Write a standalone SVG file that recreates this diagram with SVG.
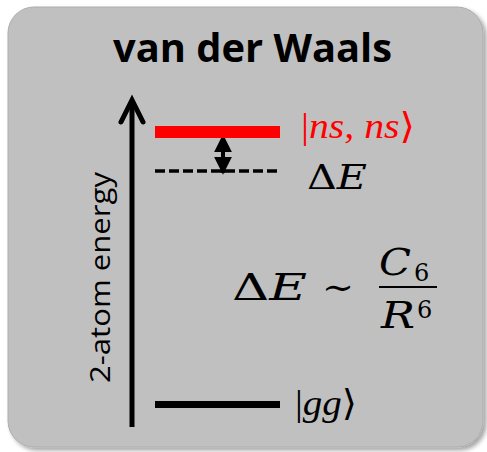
<svg xmlns="http://www.w3.org/2000/svg" width="487" height="452" viewBox="0 0 487 452">
  <style>
    .math { font-family: "Liberation Serif", "DejaVu Serif", serif; font-size: 36px; }
    .dv { font-family: "DejaVu Serif", serif; }
    .it { font-style: italic; }
    .br { font-family: "DejaVu Serif", serif; font-style: normal; }
    .title { font-family: "Open Sans", "Liberation Sans", sans-serif; font-weight: bold; font-size: 40px; fill: #000; }
    .axis-label { font-family: "Open Sans", "Liberation Sans", sans-serif; font-size: 28px; fill: #000; }
  </style>
  <defs>
    <filter id="shadow" x="-5%" y="-5%" width="115%" height="115%">
      <feDropShadow dx="3" dy="3" stdDeviation="2" flood-color="#000" flood-opacity="0.35"/>
    </filter>
    <marker id="dhead" viewBox="0 0 10 10" refX="9" refY="5" markerWidth="4.5" markerHeight="4.5" orient="auto-start-reverse" markerUnits="strokeWidth">
      <path d="M0,0 L10,5 L0,10 z" fill="#000"/>
    </marker>
  </defs>

  <g id="panel">
    <rect x="8" y="7" width="475" height="440" rx="26" ry="26" fill="#c0c0c0" stroke="#adadad" stroke-width="1" filter="url(#shadow)"/>
  </g>

  <g id="title">
    <text class="title" x="252.5" y="62" text-anchor="middle" textLength="279" lengthAdjust="spacingAndGlyphs">van der Waals</text>
  </g>

  <g id="connectors">
    <line x1="132" y1="427" x2="132" y2="101" stroke="#000" stroke-width="5"/>
    <polyline points="121,122 132,100 143,122" fill="none" stroke="#000" stroke-width="5" stroke-linecap="round" stroke-linejoin="miter"/>
    <line x1="223" y1="136" x2="223" y2="173" stroke="#000" stroke-width="4" marker-start="url(#dhead)" marker-end="url(#dhead)"/>
  </g>

  <g id="axis-label">
    <text class="axis-label" transform="translate(110,277.5) rotate(-90)" x="0" y="0" text-anchor="middle" textLength="211" lengthAdjust="spacingAndGlyphs">2-atom energy</text>
  </g>

  <g id="level-nsns">
    <rect x="155" y="126" width="125" height="12" fill="#ff0000"/>
    <text class="math" x="301" y="138" fill="#ff0000" font-size="38" textLength="114" lengthAdjust="spacingAndGlyphs"><tspan>|</tspan><tspan class="it">ns, ns</tspan><tspan class="br">⟩</tspan></text>
  </g>

  <g id="level-shifted">
    <line x1="155" y1="171" x2="280" y2="171" stroke="#000" stroke-width="3.5" stroke-dasharray="10,4"/>
    <text class="dv" x="307" y="189" font-size="34" fill="#000" textLength="60" lengthAdjust="spacingAndGlyphs"><tspan>Δ</tspan><tspan class="it">E</tspan></text>
  </g>

  <g id="formula">
    <text class="dv" x="232" y="300" font-size="38" fill="#000" textLength="75" lengthAdjust="spacingAndGlyphs"><tspan>Δ</tspan><tspan class="it">E</tspan></text>
    <text class="dv" x="322" y="299" font-size="34" fill="#000" textLength="32" lengthAdjust="spacingAndGlyphs">∼</text>
    <text class="dv it" x="379" y="275" font-size="38" fill="#000" textLength="32" lengthAdjust="spacingAndGlyphs">C</text>
    <text class="dv" x="414" y="281" font-size="24" fill="#000">6</text>
    <line x1="379" y1="287" x2="437" y2="287" stroke="#000" stroke-width="2"/>
    <text class="dv it" x="381" y="328" font-size="38" fill="#000" textLength="34" lengthAdjust="spacingAndGlyphs">R</text>
    <text class="dv" x="417" y="318" font-size="24" fill="#000">6</text>
  </g>

  <g id="level-gg">
    <rect x="155" y="401" width="125" height="7" fill="#000"/>
    <text class="math" x="295" y="415" fill="#000" textLength="62" lengthAdjust="spacingAndGlyphs"><tspan>|</tspan><tspan class="it">gg</tspan><tspan class="br">⟩</tspan></text>
  </g>
</svg>
